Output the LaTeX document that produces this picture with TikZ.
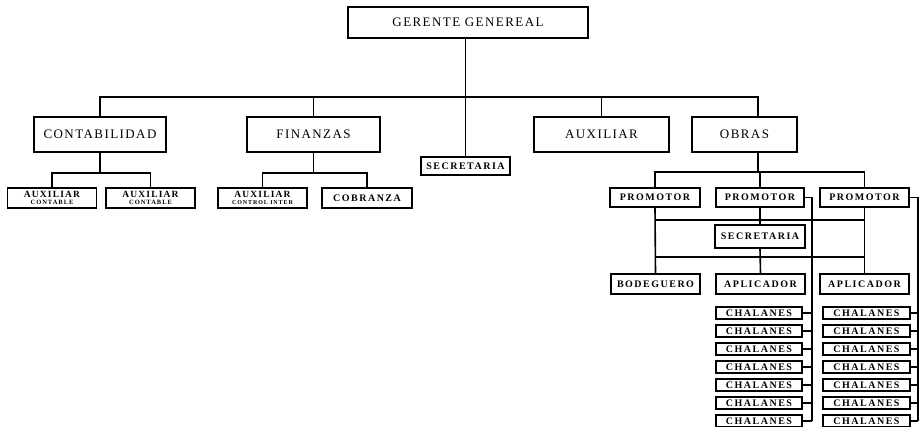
\documentclass[tikz,border=0pt]{standalone}
\usepackage{fontspec}
\newfontfamily\bigf[LetterSpace=11]{Liberation Serif}
\newfontfamily\smf[LetterSpace=15]{Liberation Serif}
\newfontfamily\midf[LetterSpace=12]{Liberation Serif}
\newfontfamily\tinyf[LetterSpace=15]{Liberation Serif}
\begin{document}
\begin{tikzpicture}[x=1pt,y=-1pt,
  bigbox/.style={draw, line width=1.6pt, inner sep=0pt, font=\bigf\fontsize{13}{13}\selectfont},
  smbox/.style={draw, line width=1.6pt, inner sep=0pt, font=\smf\bfseries\fontsize{10}{10}\selectfont},
  twobox/.style={draw, line width=1.6pt, inner sep=0pt, align=center, minimum width=89, minimum height=20, font=\midf\bfseries\fontsize{9.5}{7}\selectfont},
  chbox/.style={smbox, minimum height=12},
  conn/.style={line width=1.6pt}]
\useasboundingbox (0,0) rectangle (921,427);
% top
\node[bigbox, minimum width=240, minimum height=31] (gg) at (468,22.5) {GERENTE GENEREAL};
\node[bigbox, minimum width=132, minimum height=35] (cont) at (100,134.5) {CONTABILIDAD};
\node[bigbox, minimum width=133, minimum height=35] (fin) at (313.5,134.5) {FINANZAS};
\node[bigbox, minimum width=135, minimum height=35] (aux) at (601.5,134.5) {AUXILIAR};
\node[bigbox, minimum width=105, minimum height=35] (obras) at (744.5,134.5) {OBRAS};
\node[smbox, minimum width=89, minimum height=18] (sec) at (465.5,166) {SECRETARIA};
% second level
\node[twobox] (ac1) at (52,198) {AUXILIAR\\[-0.5pt]{\tinyf\bfseries\fontsize{6.5}{6.5}\selectfont CONTABLE}};
\node[twobox] (ac2) at (150.5,198) {AUXILIAR\\[-0.5pt]{\tinyf\bfseries\fontsize{6.5}{6.5}\selectfont CONTABLE}};
\node[twobox] (aci) at (262.5,198) {AUXILIAR\\[-0.5pt]{\tinyf\bfseries\fontsize{6}{6}\selectfont CONTROL INTER}};
\node[smbox, minimum width=90, minimum height=20] (cob) at (367,198) {COBRANZA};
\node[smbox, minimum width=90, minimum height=19] (p1) at (655,197.5) {PROMOTOR};
\node[smbox, minimum width=88, minimum height=19] (p2) at (760,197.5) {PROMOTOR};
\node[smbox, minimum width=89, minimum height=19] (p3) at (864.5,197.5) {PROMOTOR};
\node[smbox, minimum width=90, minimum height=23] (sec2) at (760,236.5) {SECRETARIA};
\node[smbox, minimum width=89, minimum height=20] (bod) at (655.5,284) {BODEGUERO};
\node[smbox, minimum width=89, minimum height=20] (ap1) at (760.5,284) {APLICADOR};
\node[smbox, minimum width=89, minimum height=20] (ap2) at (864.5,284) {APLICADOR};
% helper coordinates
\coordinate (busA) at (0,97);
\coordinate (obt) at (758,117);
\coordinate (obb) at (758,152);
\coordinate (busB) at (0,173);
\coordinate (busC) at (0,172);
\coordinate (busD) at (0,220);
\coordinate (busE) at (0,257);
\coordinate (rl) at (812,0);
\coordinate (rr) at (918,0);
% connectors top
\draw[conn] (gg.south -| sec.north) -- (sec.north);
\draw[conn] (cont.north) |- (obt |- busA) -- (obt);
\draw[conn] (fin.north) -- (fin.north |- busA);
\draw[conn] (aux.north) -- (aux.north |- busA);
% contabilidad / finanzas children
\draw[conn] (cont.south) -- (cont.south |- busB);
\draw[conn] (ac1.north) |- (ac2.north |- busB) -- (ac2.north);
\draw[conn] (fin.south) -- (fin.south |- busB);
\draw[conn] (aci.north) |- (cob.north |- busB) -- (cob.north);
% obras children
\draw[conn] (obb) -- (obb |- busC);
\draw[conn] (p1.north) |- (p3.north |- busC) -- (p3.north);
\draw[conn] (p2.north) -- (p2.north |- busC);
\draw[conn] (p1.south) -- (bod.north);
\draw[conn] (p2.south) -- (sec2.north);
\draw[conn] (p3.south) -- (ap2.north);
\draw[conn] (sec2.south) -- (ap1.north);
\draw[conn] (p1.south |- busD) -- (p3.south |- busD);
\draw[conn] (p1.south |- busE) -- (p3.south |- busE);
% chalanes
\foreach \i/\y in {1/313,2/331,3/349,4/367,5/385,6/403,7/421}{
  \node[chbox, minimum width=86] (cl\i) at (759,\y) {CHALANES};
  \node[chbox, minimum width=87] (cr\i) at (866.5,\y) {CHALANES};
  \draw[conn] (cl\i.east) -- (cl\i.east -| rl);
  \draw[conn] (cr\i.east) -- (cr\i.east -| rr);
}
\draw[conn] (p2.east) -| (rl |- cl7.east);
\draw[conn] (p3.east) -| (rr |- cr7.east);
\end{tikzpicture}
\end{document}
